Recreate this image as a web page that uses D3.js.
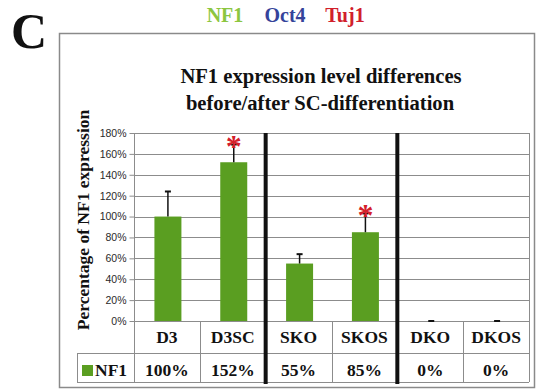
<!DOCTYPE html>
<html>
<head>
<meta charset="utf-8">
<script src="https://cdn.jsdelivr.net/npm/d3@7"></script>
<style>
  html, body { margin: 0; padding: 0; background: #fff; }
  svg { display: block; }
</style>
</head>
<body>
<svg id="chart" width="537" height="391"></svg>
<script>
// NF1 expression per cell line (percent of D3)
const categories = ["D3", "D3SC", "SKO", "SKOS", "DKO", "DKOS"];
const groups = ["D3", "D3", "SKO", "SKO", "DKO", "DKO"];
const nf1 = [100, 152, 55, 85, 0, 0];
const nf1ErrUp = [24, 17, 9, 18, 0, 0];
const significant = [false, true, false, true, false, false];
const yTicks = [0, 20, 40, 60, 80, 100, 120, 140, 160, 180];
const markers = [
  { text: "NF1", color: "#8cc63f" },
  { text: "Oct4", color: "#35439a" },
  { text: "Tuj1", color: "#d1202b" }
];
const seriesName = "NF1";

const svg = d3.select("#chart");
const SERIF = "'Liberation Serif', 'Times New Roman', serif";
const barColor = "#5a9e21";
const gridColor = "#8c8c8c";

// bold serif text helper
const serifText = sel => sel.attr("font-family", SERIF).attr("font-weight", "bold").attr("fill", "#111");

// plot geometry
const plotLeft = 134, plotRight = 529, plotTop = 133, plotBottom = 321;
const rowSplit = 353, tableBottom = 382;

const x = d3.scaleBand().domain(categories).range([plotLeft, plotRight]).padding(0);
const y = d3.scaleLinear().domain([0, 180]).range([plotBottom, plotTop]);
const barW = x.bandwidth() * 0.41;

// panel letter and stain legend
svg.append("text").call(serifText)
  .attr("x", 11).attr("y", 48).attr("font-size", 50).text("C");

const markerX = d3.scalePoint().domain(markers.map(d => d.text)).range([225, 345]);
svg.append("g").selectAll("text").data(markers).join("text")
  .call(serifText)
  .attr("x", d => markerX(d.text)).attr("y", 22)
  .attr("text-anchor", "middle").attr("font-size", 20)
  .attr("fill", d => d.color).text(d => d.text);

// outer frame
svg.append("rect")
  .attr("x", 59.5).attr("y", 33.5).attr("width", 475).attr("height", 354)
  .attr("fill", "none").attr("stroke", "#8a8a8a").attr("stroke-width", 1.5);

// title
const title = svg.append("text").call(serifText)
  .attr("text-anchor", "middle").attr("font-size", 20.6);
title.append("tspan").attr("x", 321).attr("y", 83).text("NF1 expression level differences");
title.append("tspan").attr("x", 320).attr("y", 110).text("before/after SC-differentiation");

// gridlines
svg.append("g").selectAll("line").data(yTicks).join("line")
  .attr("x1", plotLeft).attr("x2", plotRight)
  .attr("y1", d => Math.round(y(d)) + 0.5).attr("y2", d => Math.round(y(d)) + 0.5)
  .attr("stroke", gridColor).attr("stroke-width", 1);

// y axis
const yAxis = svg.append("g").attr("transform", `translate(${plotLeft + 0.5},0)`)
  .call(d3.axisLeft(y).tickValues(yTicks).tickSize(5).tickPadding(3).tickFormat(d => d + "%"));
yAxis.select(".domain").remove();
yAxis.selectAll(".tick line").attr("stroke", gridColor);
yAxis.selectAll(".tick text")
  .attr("font-family", "'Liberation Sans', Arial, sans-serif")
  .attr("font-size", 10.5).attr("fill", "#2a2a2a");

svg.append("text").call(serifText)
  .attr("transform", "translate(89,220) rotate(-90)")
  .attr("text-anchor", "middle").attr("font-size", 17.5)
  .text("Percentage of NF1 expression");

// bars
svg.append("g").selectAll("rect").data(categories).join("rect")
  .attr("x", d => x(d) + (x.bandwidth() - barW) / 2 + 1)
  .attr("width", barW)
  .attr("y", (d, i) => y(nf1[i]))
  .attr("height", (d, i) => y(0) - y(nf1[i]))
  .attr("fill", barColor);

// upper error bars
const err = svg.append("g").attr("stroke", "#111");
categories.forEach((c, i) => {
  const cx = x(c) + x.bandwidth() / 2 + 1;
  const y0 = y(nf1[i]), y1 = y(nf1[i] + nf1ErrUp[i]);
  err.append("line").attr("x1", cx).attr("x2", cx).attr("y1", y0).attr("y2", y1).attr("stroke-width", 1.5);
  err.append("line").attr("x1", cx - 3).attr("x2", cx + 3).attr("y1", y1).attr("y2", y1).attr("stroke-width", 2);
});

// significance asterisks
svg.append("g").selectAll("text").data(categories.filter((c, i) => significant[i])).join("text")
  .call(serifText)
  .attr("x", d => x(d) + x.bandwidth() / 2 + 1)
  .attr("y", d => { const i = categories.indexOf(d); return y(nf1[i] + nf1ErrUp[i]) + 13; })
  .attr("text-anchor", "middle").attr("font-size", 32).attr("fill", "#d4202a")
  .text("*");

// data table
const tbl = svg.append("g").attr("stroke", gridColor).attr("stroke-width", 1);
tbl.append("line").attr("x1", 77).attr("x2", plotRight).attr("y1", rowSplit + 0.5).attr("y2", rowSplit + 0.5);
tbl.append("line").attr("x1", 77).attr("x2", plotRight).attr("y1", tableBottom + 0.5).attr("y2", tableBottom + 0.5);
tbl.append("line").attr("x1", 77.5).attr("x2", 77.5).attr("y1", rowSplit).attr("y2", tableBottom);
tbl.append("line").attr("x1", plotLeft + 0.5).attr("x2", plotLeft + 0.5).attr("y1", plotTop).attr("y2", tableBottom);
tbl.append("line").attr("x1", plotRight + 0.5).attr("x2", plotRight + 0.5).attr("y1", plotTop).attr("y2", tableBottom);
categories.slice(1).forEach((c, k) => {
  const i = k + 1;
  if (groups[i] === groups[i - 1]) {
    tbl.append("line").attr("x1", Math.round(x(c)) + 0.5).attr("x2", Math.round(x(c)) + 0.5)
      .attr("y1", plotBottom).attr("y2", tableBottom);
  }
});

// group separators
categories.slice(1).forEach((c, k) => {
  const i = k + 1;
  if (groups[i] !== groups[i - 1]) {
    svg.append("line").attr("x1", x(c)).attr("x2", x(c))
      .attr("y1", plotTop).attr("y2", tableBottom + 2)
      .attr("stroke", "#111").attr("stroke-width", 4);
  }
});

// table text
svg.append("g").selectAll("text").data(categories).join("text")
  .call(serifText)
  .attr("x", d => x(d) + x.bandwidth() / 2).attr("y", 343)
  .attr("text-anchor", "middle").attr("font-size", 17.5)
  .text(d => d);
svg.append("g").selectAll("text").data(categories).join("text")
  .call(serifText)
  .attr("x", d => x(d) + x.bandwidth() / 2).attr("y", 376)
  .attr("text-anchor", "middle").attr("font-size", 17.5)
  .text((d, i) => nf1[i] + "%");

svg.append("rect").attr("x", 82).attr("y", 365).attr("width", 11).attr("height", 11).attr("fill", barColor);
svg.append("text").call(serifText)
  .attr("x", 95).attr("y", 376).attr("font-size", 17.5).text(seriesName);
</script>
</body>
</html>
